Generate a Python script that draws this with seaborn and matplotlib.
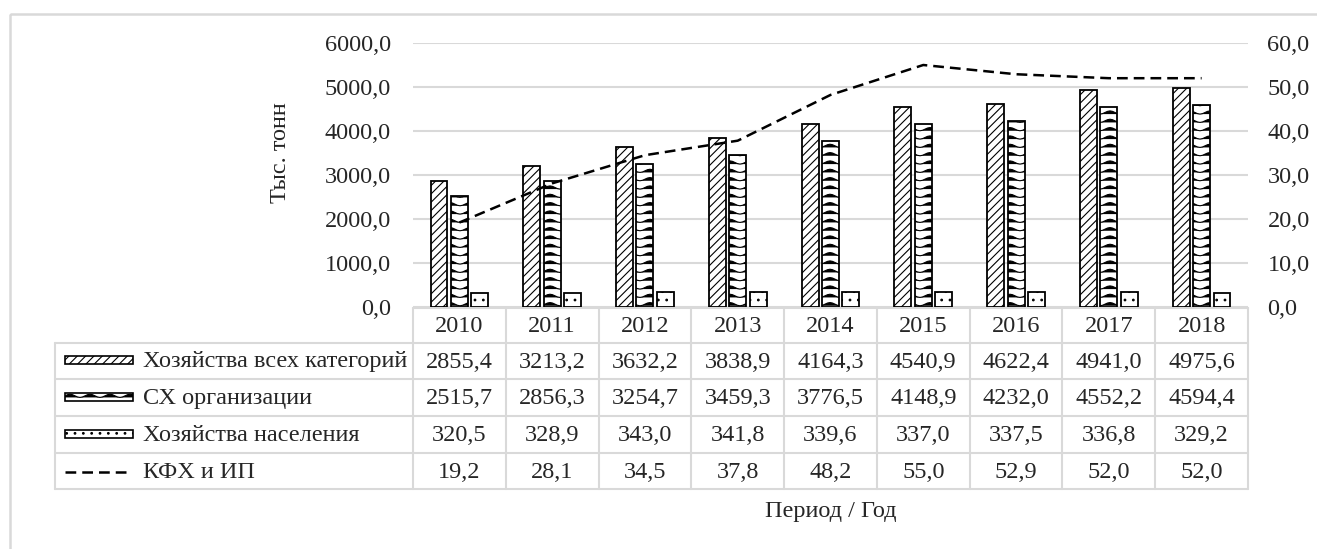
import warnings
warnings.filterwarnings("ignore")
import numpy as np
import pandas as pd
import matplotlib
matplotlib.use("Agg")
import matplotlib.pyplot as plt
import matplotlib.hatch as mhatch
from matplotlib.path import Path
from matplotlib.patches import Rectangle
from matplotlib.lines import Line2D
from matplotlib.ticker import FuncFormatter
import seaborn as sns

# ---------------- data ----------------
years = ["2010", "2011", "2012", "2013", "2014", "2015", "2016", "2017", "2018"]
all_categories = [2855.4, 3213.2, 3632.2, 3838.9, 4164.3, 4540.9, 4622.4, 4941.0, 4975.6]
agri_orgs = [2515.7, 2856.3, 3254.7, 3459.3, 3776.5, 4148.9, 4232.0, 4552.2, 4594.4]
households = [320.5, 328.9, 343.0, 341.8, 339.6, 337.0, 337.5, 336.8, 329.2]
farms = [19.2, 28.1, 34.5, 37.8, 48.2, 55.0, 52.9, 52.0, 52.0]
series_names = ["Хозяйства всех категорий", "СХ организации", "Хозяйства населения", "КФХ и ИП"]
left_ticks = [0, 1000, 2000, 3000, 4000, 5000, 6000]
right_ticks = [0, 10, 20, 30, 40, 50, 60]
y_label = "Тыс. тонн"
x_label = "Период / Год"


# ------------- custom wave hatch -------------
class WaveHatch(mhatch.HatchPatternBase):
    def __init__(self, hatch, density):
        self.num_rows = int(hatch.count('w') * density)
        self.pts = 41
        self.num_vertices = self.num_rows * self.pts

    def set_vertices_and_codes(self, vertices, codes):
        if self.num_rows == 0:
            return
        ys = (np.arange(self.num_rows) + 0.5) / self.num_rows
        xs = np.linspace(0, 1, self.pts)
        amp = 0.016
        offs = -amp * np.cos(2 * np.pi * 5 * xs)
        for r, y in enumerate(ys):
            sl = slice(r * self.pts, (r + 1) * self.pts)
            vertices[sl, 0] = xs
            vertices[sl, 1] = y + offs
            codes[sl] = Path.LINETO
            codes[r * self.pts] = Path.MOVETO


mhatch._hatch_types.append(WaveHatch)

# ---------------- style ----------------
sns.set_theme(style="white")
plt.rcParams['font.family'] = ['Liberation Serif', 'DejaVu Serif']
plt.rcParams['hatch.linewidth'] = 0.8
FS = 17.5
GRID = "#d9d9d9"
LW = 1.8
DASH = (4.3, 2.4)

W, H = 1317, 549
fig = plt.figure(figsize=(W / 100, H / 100), dpi=100)
fig.patch.set_facecolor("white")

L, R, T, B = 413, 1248, 43, 307
ax = fig.add_axes([L / W, 1 - B / H, (R - L) / W, (B - T) / H])

df = pd.DataFrame({
    "year": years * 3,
    "value": all_categories + agri_orgs + households,
    "series": [series_names[0]] * 9 + [series_names[1]] * 9 + [series_names[2]] * 9,
})
sns.barplot(data=df, x="year", y="value", hue="series", hue_order=series_names[:3],
            width=0.66, gap=0.17, ax=ax, legend=False, order=years)
hatches = ["////", "ww", ".."]
for cont, h in zip(ax.containers, hatches):
    for p in cont:
        p.set_facecolor("white")
        p.set_edgecolor("black")
        p.set_linewidth(1.3)
        p.set_hatch(h)
        p.set_zorder(3)

ax.set_ylim(0, 6000)
ax.set_xlim(-0.5, len(years) - 0.5)
ax.set_yticks(left_ticks)
ax.yaxis.set_major_formatter(FuncFormatter(lambda v, _: f"{v:.1f}".replace(".", ",")))
ax.tick_params(axis="y", labelsize=FS, length=0, pad=16)
ax.set_xticks([])
ax.set_xlabel("")
ax.set_ylabel("")
ax.grid(axis="y", color=GRID, linewidth=1.5)
ax.set_axisbelow(True)
for s in ax.spines.values():
    s.set_visible(False)

ax2 = ax.twinx()
sns.lineplot(x=np.arange(len(years)), y=farms, ax=ax2, color="black", linewidth=LW,
             linestyle="--")
for ln in ax2.lines:
    ln.set_dashes(DASH)
ax2.set_ylim(0, 60)
ax2.set_yticks(right_ticks)
ax2.yaxis.set_major_formatter(FuncFormatter(lambda v, _: f"{v:.1f}".replace(".", ",")))
ax2.tick_params(axis="y", labelsize=FS, length=0, pad=14)
ax2.set_ylabel("")
for s in ax2.spines.values():
    s.set_visible(False)
ax2.grid(False)

# ---------------- overlay (table, labels, frame) ----------------
ov = fig.add_axes([0, 0, 1, 1], zorder=-1)
ov.set_xlim(0, W)
ov.set_ylim(H, 0)
ov.axis("off")

# outer frame
ov.add_patch(Rectangle((10, 14), W, H, fill=False, edgecolor=GRID, linewidth=1.8))

col_w = (R - L) / len(years)
row_edges = [308, 343, 379, 416, 453, 489]
tab_left = 55
ov.plot([L, R], [row_edges[0]] * 2, color=GRID, lw=1.5)
for y in row_edges[1:]:
    ov.plot([tab_left, R], [y, y], color=GRID, lw=1.5)
ov.plot([tab_left, tab_left], [row_edges[1], row_edges[-1]], color=GRID, lw=1.5)
for i in range(len(years) + 1):
    x = L + i * col_w
    ov.plot([x, x], [row_edges[0], row_edges[-1]], color=GRID, lw=1.5)

row_c = [(row_edges[k] + row_edges[k + 1]) / 2 for k in range(5)]
for i, yr in enumerate(years):
    ov.text(L + (i + 0.5) * col_w, row_c[0] + 1, yr, ha="center", va="center", fontsize=FS)

values = [all_categories, agri_orgs, households, farms]
for r, vals in enumerate(values):
    yc = row_c[r + 1] + 1
    for i, v in enumerate(vals):
        ov.text(L + (i + 0.5) * col_w, yc, f"{v:.1f}".replace(".", ","),
                ha="center", va="center", fontsize=FS)
    ov.text(143, yc, series_names[r], ha="left", va="center", fontsize=FS)

# legend keys
for r, h in enumerate(hatches):
    yc = row_c[r + 1] - 1
    ov.add_patch(Rectangle((65, yc - 4), 68, 8, facecolor="white", edgecolor="black",
                           linewidth=1.2, hatch=h))
kl = Line2D([65, 128], [row_c[4] + 1] * 2, color="black", linewidth=LW)
kl.set_dashes(DASH)
ov.add_line(kl)

# axis labels
ov.text(280, 153, y_label, rotation=90, ha="center", va="center", fontsize=FS)
ov.text((L + R) / 2, 512, x_label, ha="center", va="center", fontsize=FS)

fig.savefig("out.png", dpi=100, facecolor="white")
